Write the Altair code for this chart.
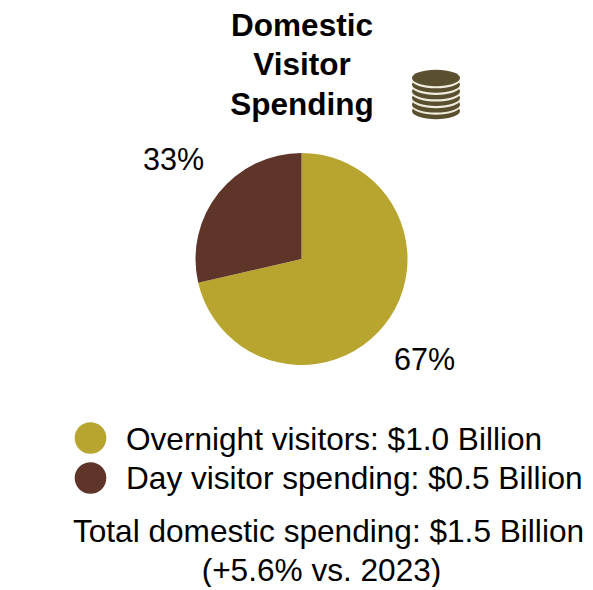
import altair as alt
import pandas as pd

title_lines = ["Domestic", "Visitor", "Spending"]
categories = ["Overnight visitors", "Day visitor spending"]
shares = [71.4, 28.6]
colors = ["#B8A52F", "#5E3528"]
pct_labels = ["67%", "33%"]
legend_labels = ["Overnight visitors: $1.0 Billion", "Day visitor spending: $0.5 Billion"]
total_lines = ["Total domestic spending: $1.5 Billion", "(+5.6% vs. 2023)"]
coin_levels = [0, 1, 2, 3, 4, 5]

FONT = "Liberation Sans"
W, H = 577, 579
def X(v): return alt.value(v - 8)
def Y(v): return alt.value(v - 8)

base = pd.DataFrame({"cat": categories, "share": shares, "order": [0, 1]})
pie = alt.Chart(base).mark_arc(radius=106, stroke=None).encode(
    theta=alt.Theta("share:Q", stack=True),
    order=alt.Order("order:Q"),
    color=alt.Color("cat:N", scale=alt.Scale(domain=categories, range=colors), legend=None),
    x=X(301.5), y=Y(259),
)

layers = [pie]

def txt(s, x, y, size=31.5, bold=False, align="center"):
    return alt.Chart(pd.DataFrame({"t": [s]})).mark_text(
        font=FONT, fontSize=size, fontWeight="bold" if bold else "normal",
        align=align, baseline="middle", color="#000000"
    ).encode(text="t:N", x=X(x), y=Y(y))

for s, y in zip(title_lines, [27, 66, 106]):
    layers.append(txt(s, 302, y, size=31.5, bold=True))
layers.append(txt(pct_labels[1], 173.5, 161, size=30.5))
layers.append(txt(pct_labels[0], 424.5, 361, size=30.5))
for s, y in zip(legend_labels, [441, 480]):
    layers.append(txt(s, 126, y, size=31.6, align="left"))
layers.append(txt(total_lines[0], 328.5, 533, size=31.6))
layers.append(txt(total_lines[1], 321.5, 572, size=31.6))

for cat, col, y in zip(categories, colors, [438, 478]):
    layers.append(alt.Chart(pd.DataFrame({"c": [cat]})).mark_point(
        shape="circle", filled=True, size=1000, color=col, opacity=1
    ).encode(x=X(90.5), y=Y(y), detail="c:N"))

ELLIPSE = "M-1,0A1,0.34 0 1,0 1,0A1,0.34 0 1,0 -1,0Z"
for lvl in coin_levels:
    yc = 111 - lvl * 6.6
    layers.append(alt.Chart(pd.DataFrame({"l": [lvl]})).mark_point(
        shape=ELLIPSE, filled=True, size=2304, color="#5A5030", opacity=1
    ).encode(x=X(436), y=Y(yc), detail="l:N"))
    if lvl < coin_levels[-1]:
        layers.append(alt.Chart(pd.DataFrame({"l": [lvl]})).mark_point(
            shape=ELLIPSE, filled=True, size=2304, color="#F1ECDC", opacity=1
        ).encode(x=X(436), y=Y(yc - 4.4), detail="l:N"))

chart = alt.layer(*layers).properties(
    width=W, height=H, padding=0, autosize=alt.AutoSizeParams(type="none"),
).configure_view(stroke=None)

chart.save("out.html", embed_options={"renderer": "svg", "actions": False})
